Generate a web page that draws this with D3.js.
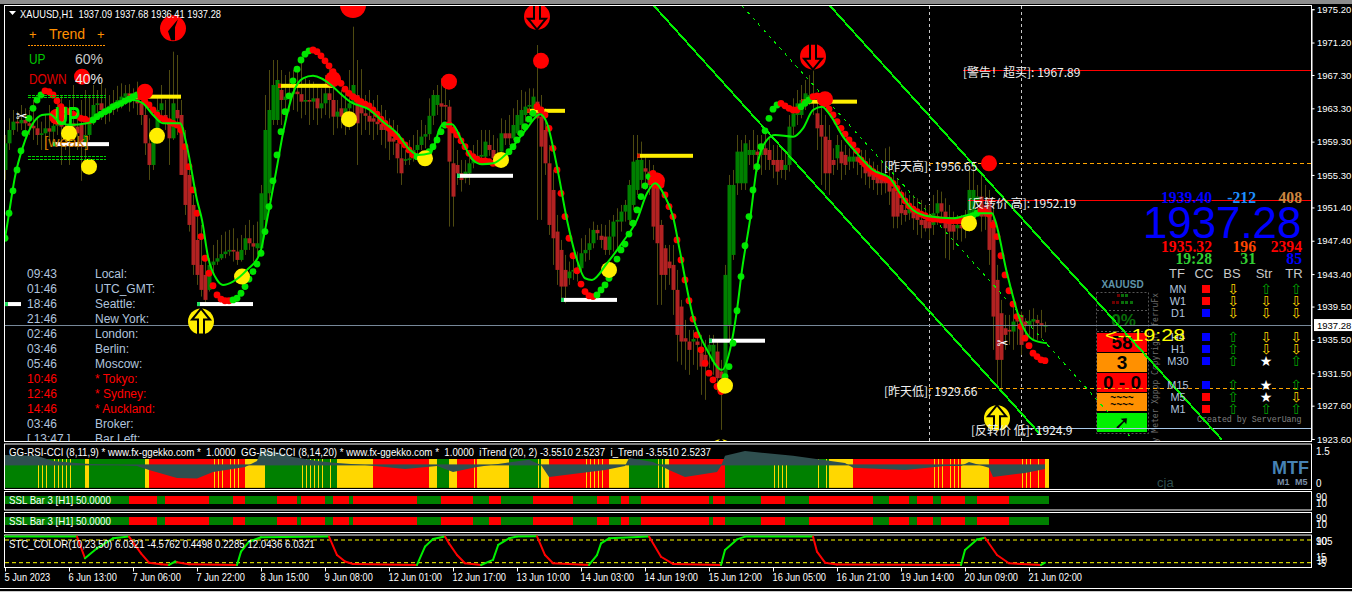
<!DOCTYPE html>
<html>
<head>
<meta charset="utf-8">
<script src="https://cdn.jsdelivr.net/npm/d3@7"></script>
<style>
html, body { margin: 0; padding: 0; background: #000; overflow: hidden; }
text { font-family: "Liberation Sans", sans-serif; }
</style>
</head>
<body>
<svg id="chart" width="1352" height="592"></svg>
<script>
//candles, one entry per H1 bar
var candleOpen = [
1955.9,1959.1,1960.7,1961.7,1961.5,1961.9,1961.5,1961.2,1960.9,1960.1,
1960.3,1960.9,1960.5,1961.2,1961.9,1961.1,1960.6,1961.5,1961.1,1961.3,
1958.7,1960.1,1962.1,1963.7,1963.9,1963.1,1962.9,1963.6,1963.8,1964.3,
1964.7,1965.1,1964.3,1964.8,1963.9,1962.5,1959.1,1956.5,1960.1,1963.1,
1962.5,1961.7,1959.7,1963.1,1962.5,1958.3,1955.3,1951.7,1947.5,1944.5,
1943.3,1941.5,1944.5,1944.9,1945.3,1945.8,1946.1,1946.3,1946.1,1945.1,
1946.3,1947.7,1947.1,1946.5,1946.5,1949.9,1953.1,1961.9,1961.9,1965.5,
1964.3,1964.7,1965.0,1965.3,1965.0,1964.1,1964.3,1964.1,1964.5,1963.3,
1963.9,1965.1,1964.3,1962.3,1963.3,1962.3,1963.3,1963.9,1964.9,1963.9,
1962.7,1962.4,1962.1,1961.7,1961.4,1961.2,1960.7,1959.7,1959.1,1957.3,
1957.0,1957.1,1957.3,1958.3,1958.9,1959.9,1960.2,1962.4,1963.7,1963.9,
1963.7,1963.5,1956.7,1956.5,1955.5,1954.9,1955.5,1956.7,1957.3,1957.5,
1957.5,1958.9,1958.3,1957.8,1958.1,1960.3,1960.3,1959.7,1960.3,1961.3,
1962.5,1963.5,1963.1,1964.1,1962.3,1960.7,1956.7,1953.5,1948.5,1946.3,
1943.9,1942.9,1943.7,1943.7,1944.1,1945.9,1946.3,1947.1,1948.7,1948.0,
1947.9,1946.3,1947.9,1949.7,1949.7,1950.9,1949.9,1951.7,1953.5,1954.7,
1956.1,1955.7,1954.7,1954.1,1949.3,1946.5,1944.9,1944.5,1941.5,1939.5,
1935.7,1935.3,1935.3,1935.3,1933.9,1933.7,1934.1,1932.9,1934.1,1931.7,
1931.3,1937.3,1945.7,1954.3,1954.3,1954.3,1957.7,1957.7,1958.1,1957.7,
1958.5,1958.3,1957.1,1957.1,1957.1,1955.9,1956.5,1961.1,1962.5,1962.5,
1963.7,1964.3,1964.9,1962.7,1961.3,1959.9,1959.5,1957.1,1957.3,1958.1,
1957.7,1956.9,1956.9,1957.5,1957.3,1956.7,1955.9,1955.7,1955.3,1954.9,
1954.9,1954.7,1953.7,1953.3,1951.7,1951.1,1950.7,1950.9,1950.5,1949.9,
1949.9,1949.7,1949.3,1950.7,1951.9,1950.9,1949.7,1949.3,1948.9,1949.3,
1948.9,1949.2,1950.7,1951.9,1952.7,1951.7,1952.5,1949.9,1942.7,1938.7,
1936.9,1936.7,1936.5,1937.9,1938.5,1937.7,1937.3,1937.7,1937.9,1937.5,1937.09];
var candleClose = [
1959.1,1960.7,1961.7,1961.5,1961.9,1961.5,1961.2,1960.9,1960.1,1960.3,
1960.9,1960.5,1961.2,1961.9,1961.1,1960.6,1961.5,1961.1,1960.3,1958.7,
1960.1,1962.1,1963.7,1963.9,1963.1,1962.9,1963.6,1963.8,1964.3,1964.7,
1965.1,1964.3,1964.8,1963.9,1962.5,1959.1,1956.5,1960.1,1963.1,1963.9,
1961.7,1959.7,1963.9,1962.1,1955.3,1951.7,1949.3,1944.5,1943.3,1941.5,
1940.3,1944.5,1944.9,1945.3,1945.8,1946.1,1946.3,1946.1,1945.1,1946.3,
1947.7,1947.1,1946.7,1947.1,1953.1,1960.7,1963.1,1966.1,1966.7,1964.3,
1964.7,1965.0,1965.3,1965.0,1964.1,1964.3,1964.1,1964.5,1963.3,1963.9,
1965.1,1964.3,1962.3,1962.9,1962.3,1963.3,1963.9,1966.1,1961.5,1962.7,
1962.4,1961.7,1961.7,1961.4,1960.7,1960.7,1959.3,1959.3,1957.3,1955.5,
1957.2,1957.3,1958.3,1958.9,1959.9,1960.2,1962.4,1964.9,1964.9,1963.5,
1963.5,1956.9,1952.7,1955.5,1954.7,1955.7,1956.7,1957.3,1957.6,1957.7,
1959.3,1958.3,1957.3,1957.1,1960.3,1959.7,1959.7,1961.3,1962.5,1963.1,
1963.5,1963.7,1964.7,1962.1,1958.7,1956.7,1949.3,1947.7,1943.9,1941.9,
1941.9,1943.7,1943.9,1944.1,1945.9,1946.3,1947.1,1948.7,1948.3,1947.5,
1946.3,1947.9,1949.7,1949.9,1950.9,1951.7,1954.1,1956.9,1957.1,1957.1,
1955.7,1954.1,1949.1,1947.1,1943.3,1943.3,1944.1,1941.5,1936.1,1935.3,
1935.3,1934.3,1935.6,1934.9,1932.3,1932.3,1934.9,1934.9,1930.9,1930.9,
1943.3,1954.1,1954.1,1958.1,1958.1,1959.1,1958.3,1958.3,1957.7,1958.5,
1957.7,1957.1,1956.5,1955.7,1955.9,1956.5,1961.1,1962.7,1963.9,1964.3,
1965.1,1964.9,1964.5,1960.9,1959.9,1955.5,1955.5,1956.5,1958.9,1956.7,
1956.5,1957.5,1957.5,1956.9,1956.5,1955.5,1955.1,1954.7,1954.3,1954.3,
1954.3,1953.3,1950.3,1950.3,1950.7,1950.5,1951.5,1950.1,1949.9,1949.3,
1948.9,1948.9,1950.7,1951.9,1950.9,1948.9,1948.5,1948.5,1949.3,1948.9,
1949.2,1953.5,1953.5,1952.7,1950.3,1950.3,1946.3,1938.3,1933.1,1933.1,
1936.1,1936.5,1937.7,1937.7,1934.9,1937.3,1937.8,1938.0,1937.5,1937.3,1937.28];
var candleHigh = [
1960.1,1962.1,1963.1,1962.9,1963.7,1963.3,1963.1,1964.3,1962.1,1961.7,
1962.5,1963.7,1962.9,1964.3,1964.9,1963.1,1964.3,1966.1,1963.3,1964.3,
1965.5,1964.9,1966.1,1965.5,1966.2,1965.7,1964.9,1965.5,1966.0,1966.3,
1966.1,1966.2,1965.7,1966.5,1965.5,1964.3,1962.1,1960.7,1964.9,1966.1,
1964.3,1967.9,1970.1,1969.7,1964.3,1960.7,1955.9,1952.9,1951.1,1949.3,
1945.7,1945.3,1946.9,1947.5,1948.1,1948.5,1948.7,1948.9,1947.7,1948.1,
1949.3,1949.9,1949.3,1949.7,1954.1,1964.9,1967.9,1969.1,1969.1,1967.9,
1967.3,1967.7,1967.9,1968.4,1968.9,1966.9,1966.7,1966.5,1966.1,1965.7,
1967.3,1968.5,1966.7,1964.3,1965.5,1965.7,1967.9,1973.1,1969.1,1968.0,
1964.9,1965.5,1964.3,1964.9,1963.7,1963.1,1962.1,1961.9,1961.3,1959.1,
1958.3,1959.5,1960.1,1960.7,1961.9,1961.3,1964.5,1965.5,1966.1,1966.9,
1966.7,1964.3,1961.3,1958.3,1957.1,1957.1,1958.3,1958.9,1959.5,1960.7,
1960.7,1960.7,1960.1,1959.7,1962.1,1961.9,1962.5,1963.3,1964.3,1965.5,
1965.3,1965.7,1965.7,1970.9,1964.9,1963.3,1958.9,1955.9,1950.5,1947.5,
1945.7,1944.9,1945.7,1946.1,1947.7,1948.1,1948.9,1949.7,1949.3,1949.4,
1949.3,1949.9,1950.5,1951.3,1951.7,1952.3,1954.7,1960.1,1960.1,1959.3,
1957.7,1957.1,1956.5,1954.9,1949.9,1946.9,1946.9,1946.9,1943.9,1940.3,
1937.9,1936.7,1936.7,1936.1,1936.1,1935.5,1936.1,1936.1,1935.5,1933.1,
1944.5,1955.3,1955.9,1960.1,1959.5,1960.1,1959.5,1960.7,1960.1,1960.1,
1960.5,1959.7,1958.9,1958.9,1958.5,1958.3,1962.5,1964.5,1965.5,1966.1,
1966.7,1967.3,1967.9,1964.9,1963.7,1962.5,1961.3,1958.5,1960.1,1959.5,
1958.9,1958.5,1958.3,1958.5,1958.3,1958.3,1957.3,1956.9,1956.5,1957.1,
1958.5,1958.7,1955.9,1954.9,1953.5,1953.3,1952.9,1952.9,1952.5,1952.3,
1951.7,1951.7,1952.9,1953.5,1953.3,1952.5,1951.7,1950.9,1950.5,1950.5,
1951.1,1955.9,1956.9,1954.1,1955.3,1954.1,1953.5,1951.7,1944.5,1940.3,
1938.5,1938.5,1939.7,1939.1,1938.9,1938.1,1939.1,1939.3,1938.5,1939.1,1937.68];
var candleLow = [
1954.7,1958.3,1960.1,1960.5,1960.7,1960.7,1960.1,1959.5,1958.9,1958.3,
1958.3,1959.5,1958.8,1960.1,1956.5,1958.3,1956.5,1959.5,1958.3,1954.6,
1956.5,1959.5,1961.3,1962.1,1961.9,1961.4,1961.7,1962.5,1962.9,1963.3,
1963.7,1962.9,1963.3,1962.5,1961.3,1957.7,1954.7,1955.9,1959.5,1962.5,
1960.7,1956.5,1959.5,1960.1,1955.3,1950.5,1948.5,1943.3,1942.1,1940.7,
1939.9,1941.3,1943.7,1944.5,1945.1,1945.3,1945.6,1944.9,1944.5,1944.9,
1945.7,1946.3,1944.9,1945.3,1945.7,1949.3,1952.3,1961.3,1961.3,1961.3,
1962.1,1962.9,1963.1,1962.9,1962.1,1962.5,1961.3,1961.9,1961.3,1962.1,
1962.5,1962.1,1960.1,1960.9,1960.9,1960.1,1960.7,1962.5,1956.5,1960.1,
1960.7,1960.1,1959.5,1960.1,1958.9,1958.5,1957.1,1957.7,1955.5,1954.1,
1956.5,1956.5,1956.9,1957.1,1958.3,1958.5,1959.5,1961.3,1962.5,1961.3,
1961.9,1949.1,1949.1,1954.1,1953.3,1954.3,1954.1,1956.1,1957.1,1957.3,
1957.1,1957.6,1956.9,1956.7,1957.7,1958.9,1958.9,1959.5,1960.1,1960.7,
1961.7,1962.5,1962.5,1949.9,1949.9,1955.3,1948.1,1944.5,1942.1,1940.3,
1939.9,1942.1,1942.7,1942.5,1943.7,1944.9,1945.1,1946.5,1947.5,1946.5,
1945.7,1945.7,1946.1,1946.3,1948.5,1949.7,1949.3,1951.1,1952.9,1953.7,
1953.5,1952.9,1947.5,1939.7,1939.7,1941.5,1942.1,1938.5,1932.9,1932.5,
1931.9,1931.3,1932.5,1931.9,1928.9,1928.3,1932.1,1931.3,1929.3,1924.7,
1930.1,1935.5,1945.1,1952.9,1953.5,1953.5,1956.5,1955.9,1955.7,1955.3,
1955.9,1955.9,1954.9,1954.1,1954.9,1954.7,1955.7,1960.1,1961.3,1962.1,
1963.1,1963.7,1962.5,1958.3,1954.1,1953.5,1952.9,1955.3,1955.9,1954.7,
1955.3,1955.9,1956.1,1955.3,1954.9,1954.1,1953.7,1953.5,1952.9,1952.9,
1953.1,1951.7,1948.9,1948.9,1949.3,1949.7,1949.9,1948.7,1948.1,1947.7,
1948.5,1947.5,1948.1,1949.3,1949.7,1945.3,1945.1,1946.3,1947.5,1947.3,
1947.7,1948.5,1949.9,1950.5,1948.5,1948.7,1944.5,1934.3,1930.1,1929.5,
1934.3,1934.9,1934.3,1934.9,1933.7,1935.5,1936.1,1935.5,1935.5,1935.7,1936.41];

//dot indicator, one value per bar. dotRuns = run lengths, starts green then alternates with red
var dotValues = [
1947.7,1950.7,1953.4,1955.9,1958.2,1960.3,1962.1,1963.3,1964.3,1964.9,
1965.4,1965.3,1964.9,1964.2,1963.5,1963.1,1962.9,1962.6,1962.4,1962.1,1962.0,1961.8,
1961.9,1962.3,1962.6,1962.9,1963.1,1963.5,1963.7,1963.9,1964.2,1964.4,1964.7,1964.9,
1964.7,1964.1,1963.7,1963.1,1962.5,1962.1,1961.9,1961.7,1961.5,1961.3,1960.7,1958.7,1956.3,1953.5,1950.7,1947.9,1945.3,1943.5,1942.0,1940.9,1940.4,1940.2,1940.2,
1940.3,1940.5,1941.1,1941.9,1942.8,1943.7,1944.6,1945.9,1948.5,1951.5,1954.6,1957.7,1960.5,1962.9,1964.8,1966.6,1968.0,1969.1,1969.8,1970.2,
1970.3,1970.1,1969.6,1969.0,1968.4,1967.7,1966.9,1966.3,1965.6,1965.1,1964.7,1964.4,1964.1,1963.8,1963.6,1963.1,1962.6,1962.0,1961.5,1960.9,1960.3,1959.9,1959.4,1958.9,1958.3,1957.7,
1957.5,1957.3,1957.3,1958.1,1958.7,1959.5,1960.5,1961.3,
1961.3,1960.7,1960.1,1959.4,1958.7,1957.9,1957.5,1957.2,1957.0,1957.0,1956.9,1956.7,1956.7,
1957.0,1957.5,1958.1,1958.7,1959.5,1960.3,1961.1,1962.0,1962.7,
1963.5,1963.1,1962.5,1960.9,1958.5,1955.9,1953.1,1950.3,1947.7,1945.6,1943.8,1942.2,1941.3,1940.8,1940.7,
1940.9,1941.5,1942.1,1942.9,1943.9,1945.2,1946.3,1947.0,1948.2,1949.5,1951.1,1952.7,1954.0,1955.1,
1955.5,1955.2,1954.1,1952.9,1951.5,1950.3,1947.5,1945.1,1942.7,1940.2,1938.0,1936.1,1934.3,1932.7,1931.5,1930.7,1929.9,1929.3,
1931.1,1932.3,1935.1,1939.0,1943.1,1946.8,1950.3,1953.5,1956.3,1958.7,1960.6,1962.1,1963.2,1963.7,
1963.9,1963.6,1963.3,1963.1,1963.1,
1963.5,1963.9,1964.3,
1964.7,1964.8,1964.7,1964.1,1963.2,1962.5,1961.7,1960.9,1960.2,1959.5,1958.9,1958.2,1957.1,1956.6,1956.1,1955.7,1955.4,1955.1,1954.9,1954.7,1954.3,1953.7,1952.9,1952.2,1951.6,1951.2,1950.9,1950.6,1950.4,1950.1,1950.0,1950.0,1949.9,1949.9,1949.8,1949.8,1949.8,1949.8,1949.9,
1950.0,1950.4,1950.7,
1951.0,1950.9,1950.6,1949.3,1947.9,1945.6,1943.3,1941.4,1939.8,1938.3,1937.1,1935.7,1934.8,1933.9,1933.5,1933.1,1933.0];
var dotRuns = [10,12,12,23,20,26,8,13,9,15,14,18,14,5,3,39,3,17];

//smooth trend line, knots given as bar number and price
var trendBars = [0,0.75,2.5,4.5,7,9.25,11.25,13,16.25,20.5,23.75,27,32,34.5,37,39.5,43.75,45.5,48,49.25,50.75,53,54.5,57,60.5,63.75,65.5,68,69.5,72,74.5,77,82,83.75,86.25,91.25,94.5,98,101.25,103.25,106.25,109.5,111.75,114.5,117,119.25,122,125.5,130.5,133.75,135.5,138,140.5,143,145,146.75,150.5,154.5,158,160.5,162.5,165,167,168.75,172,175.5,179.25,181.25,183,184.25,186.25,188,190.5,192.5,197,199.5,202,204.25,206.25,209.5,213,217,221.25,223.75,227,231.25,237,243,246.75,247.5,250.5,253.75,257,260.5];
var trendPrices = [1947.7,1949.9,1955.1,1958.7,1961.5,1962.5,1962.6,1961.9,1961.3,1961.5,1962.5,1963.5,1964.3,1963.9,1962.5,1961.5,1961.5,1958.7,1952.3,1949.9,1945.5,1942.7,1942.1,1942.5,1943.9,1945.9,1949.9,1956.3,1960.3,1965.1,1966.9,1967.2,1965.9,1965.1,1964.1,1963.1,1961.7,1960.3,1958.3,1957.7,1957.9,1961.4,1961.4,1959.1,1957.1,1956.6,1956.7,1957.9,1960.9,1962.6,1961.5,1956.3,1949.9,1945.1,1942.9,1942.7,1944.7,1947.3,1949.9,1953.1,1954.3,1952.7,1950.3,1946.1,1938.3,1934.3,1931.9,1934.3,1939.1,1943.9,1949.9,1956.3,1959.5,1960.1,1959.9,1960.9,1963.1,1963.5,1962.5,1959.9,1957.9,1955.9,1954.9,1953.1,1951.1,1950.3,1950.1,1950.7,1950.7,1949.9,1943.5,1937.9,1935.5,1935.1];

//signal balls
var redBigBars = [42,87], redBigPrices = [1972.9,1975.7];
var redArrowBars = [133,202], redArrowPrices = [1974.3,1969.5];
var redBallBars = [19.25,13,35,82,111,134,163,205,246];
var redBallPrices = [1967.1,1962.3,1965.3,1966.8,1966.5,1969.0,1954.6,1964.4,1956.7];
var yellowBallBars = [16,21,38,59.25,86,105,124,151,180,241];
var yellowBallPrices = [1960.3,1956.3,1960.0,1943.1,1962.0,1957.3,1957.1,1943.9,1930.0,1949.5];
var yellowArrowBars = [49,179,248], yellowArrowPrices = [1937.7,1922.0,1926.1];

//short reversal bars
var yellowBarStart = [31,68.25,130.5,158,199], yellowBarEnd = [44,82,140,172,213];
var yellowBarPrice = [1964.7,1966.0,1963.0,1957.6,1964.1];
var whiteBarStart = [12,0,48,113,139,176], whiteBarEnd = [26,4,62,127,153,190];
var whiteBarPrice = [1959.0,1939.8,1939.8,1955.2,1940.3,1935.4];

//channel: start bar/price, end bar/price
var channelStartBar = [162.25,206.25,184.25], channelEndBar = [258.75,304.25,282];
var channelStartPrice = [1975.6,1975.6,1975.6], channelEndPrice = [1924.2,1923.5,1923.5];

//levels
var levelNames = ["[警告！超买]: 1967.89","[昨天高]: 1956.65","[反转价 高]: 1952.19","[昨天低]: 1929.66","[反转价 低]: 1924.9"];
var levelPrices = [1967.89,1956.65,1952.19,1929.66,1924.9];
var levelBars = [239.5,231,240.75,231,254];
var levelColors = ["#ff0000","#ffa500","#ff0000","#ffa500","#a8c8e8"];
var levelTextBars = [239.5,219.75,240.75,219.75,241.5];
var levelTextGap = [7,7,7,7,7];
var sessionBars = [231,254];

var priceTicks = [1975.2,1971.2,1967.3,1963.3,1959.3,1955.3,1951.4,1947.4,1943.4,1939.5,1935.5,1931.5,1927.6,1923.6];
var lastPrice = 1937.28;
var timeLabels = ["5 Jun 2023","6 Jun 13:00","7 Jun 06:00","7 Jun 22:00","8 Jun 15:00","9 Jun 08:00","12 Jun 01:00","12 Jun 17:00","13 Jun 10:00","14 Jun 03:00","14 Jun 19:00","15 Jun 12:00","16 Jun 05:00","16 Jun 21:00","19 Jun 14:00","20 Jun 09:00","21 Jun 02:00"];

//GG-RSI-CCI columns: run lengths with colour, thin gold columns, grey band knots
var ggRunLengths = [20,1,14,1,24,5,18,9,12,2,2,3,2,5,8,8,2,15,5,9,1,14,23,3,6,27,7,14,1];
var ggRunColors = "GYGYRYGYRRYGYRYGYRYGYRGGYRYRY".split("");
var ggThin = [8,9,10,12,13,14,15,16,52,53,54,56,57,58,74,75,76,77,78,79,81,117,118,133,145,146,147,148,149,163,164,192,193,194,195,203,205,232,233,234,236,237,238,254,255,256,258];
var ggGreyBars = [0,8,12,20,28,33,36,43,48,52,60,63,64,68,72,78,83,90,100,108,112,118,125,131,134,136,150,155,156,162,166,170,178,179,180,185,197,210,212,225,235,239,241,246,247,255,260];
var ggGreyValues = [1.31,1.27,1.03,0.89,0.84,0.79,0.6,0.22,0.2,0.5,0.74,1.03,1.55,1.45,1.22,1.03,0.93,0.84,0.65,0.79,0.5,0.74,0.93,1.08,0.84,0.27,0.6,0.79,1.17,0.98,0.6,0.27,0.5,0.79,1.27,1.5,1.27,0.93,0.7,0.6,0.79,0.79,0.98,0.7,0.27,0.46,0.65];

//SSL bar runs, starts green then alternates with red
var sslRuns = [31,7,2,11,6,3,8,5,1,6,2,4,1,16,6,8,4,3,8,10,6,3,3,2,3,17,1,3,9,6,6,16,4,5,2,4,2,6,3,8,10];

//STC line, colour flips at the bars in stcTurns
var stcBars = [0,18,20,23,27,31,34,36,39,41,42.5,43,46,58,59,61,64,81,83,85,87,103,105,107,110,111,113,115,119,122,123.3,126,128,133,135,137,146,148,149,151,161,164,167,179,180,183,185,202,203,205,208,239,240,243,245,248,251,259,260];
var stcValues = [102,102,25.6,60.8,96,102,43,10,4.5,2,14,11.5,4.5,2,49,84,99.5,102,37,14,5.6,2,66.6,93.6,102,78,37,8,2,19.7,72.5,96,102,103,37,8,2,37,78,96,102,31,5.6,2,55,92,102,102,49,10,4,2,55,92,98,37,8,2,10];
var stcTurns = [18,20,31,41,43,58,81,103,110,119,133,146,161,179,202,239,245,259];

//world clock text
var clockTimes = ["09:43","01:46","18:46","21:46","02:46","03:46","05:46","10:46","12:46","14:46","03:46","[ 13:47 ]"];
var clockNames = ["Local:","UTC_GMT:","Seattle:","New York:","London:","Berlin:","Moscow:","* Tokyo:","* Sydney:","* Auckland:","Broker:","Bar Left:"];

//multi timeframe table
var tfNames = ["MN","W1","D1","H4","H1","M30","M15","M5","M1"];
var tfCC = ["R","R","B","B","B","B","B","R","R"];
var tfBS = ["d","d","d","u","u","u","u","u","u"];
var tfStr = ["u","d","d","d","d","s","s","s","u"];
var tfTR = ["u","d","d","d","d","u","u","d","u"];

var GREEN = "#008000", RED = "#ff0000", GOLD = "#ffd700", LIME = "#00e600", WHITE = "#ffffff", BRIGHT = "#00f000";

var svg = d3.select("#chart");
var xBar = d3.scaleLinear().domain([0, 260]).range([5, 1045]);
var yMain = d3.scaleLinear().domain([1975.2, 1923.6]).range([9.2, 439]);

//MT4 text is narrow, squeeze the glyphs a bit
function narrow(sel, k){
	sel.each(function(){
		d3.select(this)
			.attr("textLength", this.getComputedTextLength() * k)
			.attr("lengthAdjust", "spacingAndGlyphs");
	});
	return sel;
}

function label(parent, x, y, str, color, size, anchor){
	return parent.append("text")
		.attr("x", x)
		.attr("y", y)
		.attr("text-anchor", anchor || "start")
		.style("font-size", size + "px")
		.style("fill", color)
		.text(str);
}

//background and window frames
svg.append("rect").attr("width", 1352).attr("height", 592).attr("fill", "#000");
svg.append("rect").attr("width", 1352).attr("height", 4).attr("fill", "#8c8c8c");
var frameTops = [5.5, 444, 491.5, 512.5, 535];
var frameBottoms = [441.5, 489.5, 510, 532.5, 567.5];
frameTops.forEach(function(t, i){
	svg.append("rect")
		.attr("x", 4.5)
		.attr("y", t)
		.attr("width", 1307)
		.attr("height", frameBottoms[i] - t)
		.attr("fill", "none")
		.attr("stroke", WHITE);
});
svg.append("line").attr("x1", 0).attr("x2", 1352).attr("y1", 588.5).attr("y2", 588.5).attr("stroke", WHITE);
svg.append("line").attr("x1", 0).attr("x2", 1352).attr("y1", 591.5).attr("y2", 591.5).attr("stroke", "#cccccc");

var defs = svg.append("defs");
defs.append("clipPath").attr("id", "mainClip").append("rect")
	.attr("x", 5).attr("y", 6).attr("width", 1306).attr("height", 435);
defs.append("clipPath").attr("id", "rightClip").append("rect")
	.attr("x", 1100).attr("y", 444).attr("width", 211).attr("height", 45);

var main = svg.append("g").attr("clip-path", "url(#mainClip)");

//world clock first, everything else sits above it
var clockColor = function(i){ return (i >= 7 && i <= 9) ? RED : "#b0c4de"; };
clockTimes.forEach(function(t, i){
	label(main, 27, 278 + i * 15, t, clockColor(i), 12);
	label(main, 95, 278 + i * 15, clockNames[i], clockColor(i), 12);
});

//session separators and levels
sessionBars.forEach(function(b){
	main.append("line")
		.attr("x1", Math.round(xBar(b)) + 0.5).attr("x2", Math.round(xBar(b)) + 0.5)
		.attr("y1", 6).attr("y2", 441)
		.attr("stroke", "#c8c8c8")
		.attr("stroke-dasharray", "3,3");
});

//meter widget on the right, channel runs over it
var meter = main.append("g");
meter.append("rect").attr("x", 1096.5).attr("y", 292.5).attr("width", 52).attr("height", 141)
	.attr("fill", "none").attr("stroke", "#555").attr("stroke-dasharray", "2,2");
[310.5, 331.5].forEach(function(y){
	meter.append("line").attr("x1", 1097).attr("x2", 1148).attr("y1", y).attr("y2", y)
		.attr("stroke", "#555").attr("stroke-dasharray", "2,2");
});
var meterTops = [333, 353, 373, 393, 413];
var meterBottoms = [352, 372, 392, 411, 432];
var meterColors = [RED, "#ff9000", RED, "#ff9000", "#00f000"];
meterTops.forEach(function(t, i){
	meter.append("rect").attr("x", 1097).attr("y", t).attr("width", 50)
		.attr("height", meterBottoms[i] - t).attr("fill", meterColors[i]);
});
var meterTexts = ["58", "3", "0 - 0"];
meterTexts.forEach(function(t, i){
	label(meter, 1122, meterBottoms[i] - 3, t, "#000", 19, "middle").style("font-weight", "bold");
});
label(meter, 1122, 401, "~~~~", "#000", 10, "middle").style("font-weight", "bold");
label(meter, 1122, 408, "~~~~", "#000", 10, "middle").style("font-weight", "bold");
label(meter, 1122, 429, "➚", "#000", 19, "middle").style("font-weight", "bold").style("font-family", "DejaVu Sans");
label(meter, 1122.5, 288, "XAUUSD", "#5f93a8", 10, "middle").style("font-weight", "bold");
label(meter, 1123.5, 326, "0%", "#0a6e0a", 17, "middle").style("font-weight", "bold");
var signalX = [1117, 1121, 1125], signalDots = [1112, 1116, 1121, 1125, 1130];
signalX.forEach(function(x, i){
	meter.append("rect").attr("x", x).attr("y", 294).attr("width", 3).attr("height", 3)
		.attr("fill", i == 0 ? "#6b0000" : "#0a6e0a");
});
signalDots.forEach(function(x, i){
	meter.append("rect").attr("x", x).attr("y", 301).attr("width", 3).attr("height", 3)
		.attr("fill", i < 2 ? "#6b0000" : "#0a6e0a");
});
label(meter, 0, 0, "by Meter Xpppp Copyright ferruFx", "#6e6e6e", 8)
	.attr("text-anchor", "end")
	.style("font-family", "DejaVu Sans Mono")
	.attr("transform", "translate(1158,293) rotate(-90)");
label(main, 1197, 422, "Created by ServerUang", "#808080", 8.3).style("font-family", "Liberation Mono");

//candles
var barIdx = d3.range(candleOpen.length);
main.append("g").selectAll("line").data(barIdx).join("line")
	.attr("x1", function(d){ return xBar(d) + 0.5; })
	.attr("x2", function(d){ return xBar(d) + 0.5; })
	.attr("y1", function(d){ return yMain(candleHigh[d]); })
	.attr("y2", function(d){ return yMain(candleLow[d]); })
	.attr("stroke", "#4e4a10");
main.append("g").selectAll("rect").data(barIdx).join("rect")
	.attr("x", function(d){ return xBar(d) - 1.5; })
	.attr("width", 4)
	.attr("y", function(d){ return Math.min(yMain(candleOpen[d]), yMain(candleClose[d])); })
	.attr("height", function(d){ return Math.max(1, Math.abs(yMain(candleOpen[d]) - yMain(candleClose[d]))); })
	.attr("fill", function(d){ return candleClose[d] >= candleOpen[d] ? GREEN : "#b22222"; });

//last price line
main.append("line").attr("x1", 5).attr("x2", 1311)
	.attr("y1", Math.round(yMain(lastPrice)) + 0.5).attr("y2", Math.round(yMain(lastPrice)) + 0.5)
	.attr("stroke", "#778899");

//level lines
levelPrices.forEach(function(p, i){
	main.append("line")
		.attr("x1", xBar(levelBars[i])).attr("x2", 1311)
		.attr("y1", Math.floor(yMain(p)) + 0.5).attr("y2", Math.floor(yMain(p)) + 0.5)
		.attr("stroke", levelColors[i])
		.attr("stroke-dasharray", levelColors[i] == "#ffa500" ? "4,3" : null);
});

//channel
channelStartBar.forEach(function(b, i){
	main.append("line")
		.attr("x1", xBar(b)).attr("y1", yMain(channelStartPrice[i]))
		.attr("x2", xBar(channelEndBar[i])).attr("y2", yMain(channelEndPrice[i]))
		.attr("stroke", BRIGHT)
		.attr("stroke-width", i == 2 ? 1 : 2)
		.attr("shape-rendering", "crispEdges")
		.attr("stroke-dasharray", i == 2 ? "3,5" : null);
});

//reversal bars
function shortBars(starts, ends, prices, color){
	starts.forEach(function(s, i){
		main.append("rect")
			.attr("x", xBar(s)).attr("width", xBar(ends[i]) - xBar(s))
			.attr("y", yMain(prices[i]) - 2).attr("height", 4)
			.attr("fill", color);
		main.append("rect")
			.attr("x", xBar(s)).attr("width", 3)
			.attr("y", yMain(prices[i]) - 2).attr("height", 4)
			.attr("fill", color == WHITE ? "#20e060" : "#d02000");
	});
}
shortBars(yellowBarStart, yellowBarEnd, yellowBarPrice, "#ffee00");
shortBars(whiteBarStart, whiteBarEnd, whiteBarPrice, WHITE);

//dots coloured by run
var dotColor = [];
dotRuns.forEach(function(n, r){
	d3.range(n).forEach(function(){ dotColor.push(r % 2 == 0 ? LIME : RED); });
});
main.append("g").selectAll("circle").data(dotValues).join("circle")
	.attr("cx", function(d, i){ return xBar(i); })
	.attr("cy", function(d){ return yMain(d); })
	.attr("r", 3.4)
	.attr("fill", function(d, i){ return dotColor[i]; });

//balls
function balls(bars, prices, color, r){
	bars.forEach(function(b, i){
		main.append("circle").attr("cx", xBar(b)).attr("cy", yMain(prices[i])).attr("r", r).attr("fill", color);
	});
}
balls(redBallBars, redBallPrices, RED, 8);
balls(yellowBallBars, yellowBallPrices, "#ffee00", 8);
balls(redBigBars, redBigPrices, RED, 13);
main.append("path")
	.attr("d", "M-2,12 L-5,3 L5,-9 L2,-1 L2,12")
	.attr("transform", "translate(" + xBar(redBigBars[0]) + "," + yMain(redBigPrices[0]) + ")")
	.attr("fill", "#000");

//arrow balls, dir 1 points down
function arrowBalls(bars, prices, color, dir){
	bars.forEach(function(b, i){
		var g = main.append("g").attr("transform", "translate(" + xBar(b) + "," + yMain(prices[i]) + ")");
		g.append("circle").attr("r", 13).attr("fill", color);
		g.append("path")
			.attr("d", "M-3,-13 H3 V2 H9 L0,13 L-9,2 H-3 Z")
			.attr("transform", "scale(1," + dir + ")")
			.attr("fill", color)
			.attr("stroke", "#000")
			.attr("stroke-width", 2);
	});
}
arrowBalls(redArrowBars, redArrowPrices, RED, 1);
arrowBalls(yellowArrowBars, yellowArrowPrices, "#ffee00", -1);

//trend line on top of the dots
var trendLine = d3.line()
	.x(function(d){ return xBar(d); })
	.y(function(d, i){ return yMain(trendPrices[i]); })
	.curve(d3.curveMonotoneX);
main.append("path")
	.attr("d", trendLine(trendBars))
	.attr("fill", "none")
	.attr("stroke", BRIGHT)
	.attr("stroke-width", 2);

//scissors
label(main, 16, 121, "✂", WHITE, 14).style("font-family", "DejaVu Sans");
label(main, 997, 348, "✂", WHITE, 14).style("font-family", "DejaVu Sans");

//level names
levelNames.forEach(function(n, i){
	label(main, xBar(levelTextBars[i]), yMain(levelPrices[i]) + levelTextGap[i], n, "#f0f0f0", 12)
		.style("font-family", "'Noto Sans CJK SC'");
});

//top left block
label(main, 20, 18, "XAUUSD,H1  1937.09 1937.68 1936.41 1937.28", WHITE, 11)
	.attr("textLength", 201).attr("lengthAdjust", "spacingAndGlyphs").style("white-space", "pre");
main.append("path").attr("d", "M9,11 L16,11 L12.5,15 Z").attr("fill", WHITE);
label(main, 29, 39, "+", "#ff9000", 13);
label(main, 49, 39, "Trend", "#ff9000", 14);
label(main, 97, 39, "+", "#ff9000", 13);
main.append("line").attr("x1", 28).attr("x2", 106).attr("y1", 45.5).attr("y2", 45.5)
	.attr("stroke", "#ff9000").attr("stroke-dasharray", "2,1");
narrow(label(main, 29, 64, "UP", "#00c800", 14), 0.85);
label(main, 75, 64, "60%", "#c8c8c8", 14);
narrow(label(main, 29, 84, "DOWN", "#e00000", 14), 0.85);
label(main, 75, 84, "40%", "#e8e8e8", 14);
[95.5, 97.5, 156.5, 159.5].forEach(function(y){
	main.append("line").attr("x1", 28).attr("x2", 106).attr("y1", y).attr("y2", y)
		.attr("stroke", "#00d000").attr("stroke-dasharray", "3,1");
});
narrow(label(main, 55, 125, "UP", "#00ee00", 25), 0.72).style("font-weight", "bold");
label(main, 44, 147, "[weak]", "#c87800", 15.5);

//quote block on the right
var quoteFont = "'Liberation Serif'";
var quoteRows = [
	{y: 203, x: [1212, 1256, 1302], s: ["1939.40", "-212", "408"], c: ["#0000ff", "#1e90ff", "#cd853f"]},
	{y: 252, x: [1212, 1256, 1302], s: ["1935.32", "196", "2394"], c: [RED, "#ff4500", RED]},
	{y: 264, x: [1212, 1256, 1302], s: ["19:28", "31", "85"], c: ["#32cd32", "#32cd32", "#0000ff"]}
];
quoteRows.forEach(function(r){
	r.s.forEach(function(t, i){
		label(main, r.x[i], r.y, t, r.c[i], 15.7, "end")
			.style("font-family", quoteFont)
			.style("font-weight", "bold");
	});
});
label(main, 1143, 238, "1937.28", "#0000ff", 43.8);

//timeframe table
var tfY = [289, 301, 313, 337, 349, 361, 385, 397, 409];
var tfHeadX = [1177, 1204, 1232, 1264, 1294], tfHeads = ["TF", "CC", "BS", "Str", "TR"];
tfHeads.forEach(function(t, i){
	label(main, tfHeadX[i], 278, t, "#c8c8c8", 13, "middle");
});
function tfGlyph(code, x, y){
	var glyph = code == "u" ? "⇧" : (code == "d" ? "⇩" : "★");
	var color = code == "u" ? "#00a000" : (code == "d" ? "#ffd700" : WHITE);
	label(main, x, y + 5, glyph, color, 14, "middle").style("font-family", "DejaVu Sans");
}
tfNames.forEach(function(t, i){
	narrow(label(main, 1178, tfY[i] + 4, t, "#b0c4de", 11.5, "middle"), 0.95);
	main.append("rect").attr("x", 1202).attr("y", tfY[i] - 4).attr("width", 8).attr("height", 8)
		.attr("fill", tfCC[i] == "R" ? RED : "#0000ff");
	tfGlyph(tfBS[i], 1233, tfY[i]);
	tfGlyph(tfStr[i], 1266, tfY[i]);
	tfGlyph(tfTR[i], 1296, tfY[i]);
});
label(main, 1105, 341, "<--19:28", "#ffff00", 17).attr("textLength", 80).attr("lengthAdjust", "spacingAndGlyphs");

//price axis
var priceAxis = d3.axisRight(yMain).tickValues(priceTicks).tickFormat(d3.format(".2f")).tickSize(3).tickPadding(2.5);
var axisG = svg.append("g").attr("transform", "translate(1311.5,0)").call(priceAxis);
axisG.selectAll("path").attr("stroke", WHITE);
axisG.selectAll("line").attr("stroke", WHITE);
axisG.selectAll("text").style("fill", WHITE).style("font-size", "9.5px").style("font-family", "Liberation Sans");
svg.append("rect").attr("x", 1314).attr("y", yMain(lastPrice) - 6).attr("width", 38).attr("height", 12).attr("fill", WHITE);
label(svg, 1317, yMain(lastPrice) + 3.5, d3.format(".2f")(lastPrice), "#000", 9.5);

//GG-RSI-CCI window
var yGG = d3.scaleLinear().domain([1.5, 0]).range([451, 482.6]);
var ggColorMap = {G: GREEN, R: RED, Y: GOLD};
var sub1 = svg.append("g");
var ggStart = 0;
ggRunLengths.forEach(function(n, i){
	sub1.append("rect")
		.attr("x", xBar(ggStart))
		.attr("width", xBar(n) - xBar(0))
		.attr("y", yGG(1.12))
		.attr("height", yGG(-0.25) - yGG(1.12))
		.attr("fill", ggColorMap[ggRunColors[i]]);
	ggStart += n;
});
sub1.selectAll("rect.thin").data(ggThin).join("rect")
	.attr("class", "thin")
	.attr("x", function(d){ return xBar(d) + 1; })
	.attr("width", 1)
	.attr("y", yGG(1.12))
	.attr("height", yGG(-0.25) - yGG(1.12))
	.attr("fill", GOLD);
var ggArea = d3.area()
	.x(function(d){ return xBar(d); })
	.y0(yGG(0.84))
	.y1(function(d, i){ return yGG(ggGreyValues[i]); });
sub1.append("path").attr("d", ggArea(ggGreyBars)).attr("fill", "#2f4f4f");
sub1.append("line").attr("x1", xBar(0)).attr("x2", xBar(260)).attr("y1", yGG(0.84)).attr("y2", yGG(0.84)).attr("stroke", "#2f4f4f");
label(sub1, 9, 456, "GG-RSI-CCI (8,11,9) * www.fx-ggekko.com *  1.0000  GG-RSI-CCI (8,14,20) * www.fx-ggekko.com *  1.0000  iTrend (20, 2) -3.5510 2.5237  i_Trend -3.5510 2.5237", WHITE, 11)
	.attr("textLength", 702).attr("lengthAdjust", "spacingAndGlyphs").style("white-space", "pre");
narrow(label(svg, 1316, 455, "1.5", WHITE, 11), 0.9);
narrow(label(svg, 1316, 487, "0", WHITE, 11), 0.9);
var mtf = svg.append("g").attr("clip-path", "url(#rightClip)");
label(mtf, 1272, 474, "MTF C", "#4682b4", 18).style("font-weight", "bold");
label(mtf, 1277, 485, "M1", "#7a8fa8", 9).style("font-weight", "bold");
label(mtf, 1295, 485, "M5", "#7a8fa8", 9).style("font-weight", "bold");
label(mtf, 1157, 487, "cja", "#2f4f4f", 13);

//SSL windows
[496, 517].forEach(function(top, w){
	var start = 0;
	sslRuns.forEach(function(n, r){
		svg.append("rect")
			.attr("x", xBar(start))
			.attr("width", xBar(n) - xBar(0))
			.attr("y", top)
			.attr("height", 8)
			.attr("fill", r % 2 == 0 ? GREEN : RED);
		start += n;
	});
	narrow(label(svg, 9, top + 8, "SSL Bar 3 [H1] 50.0000", WHITE, 11), 0.88);
	narrow(label(svg, 1316, top + 5, "90", WHITE, 11), 0.9);
	narrow(label(svg, 1316, top + 11, "10", WHITE, 11), 0.9);
});

//STC window
var yStc = d3.scaleLinear().domain([90, 10]).range([540, 562.7]);
var stcLevels = [90, 10];
stcLevels.forEach(function(v){
	svg.append("line")
		.attr("x1", 5).attr("x2", 1311)
		.attr("y1", yStc(v)).attr("y2", yStc(v))
		.attr("stroke", "#ffff00")
		.attr("stroke-dasharray", "4,3");
});
var stcGreen = true;
stcBars.forEach(function(b, i){
	if(i == stcBars.length - 1) return;
	if(stcTurns.indexOf(b) >= 0) stcGreen = !stcGreen;
	svg.append("line")
		.attr("x1", xBar(b)).attr("y1", yStc(stcValues[i]))
		.attr("x2", xBar(stcBars[i + 1])).attr("y2", yStc(stcValues[i + 1]))
		.attr("stroke", stcGreen ? BRIGHT : RED)
		.attr("stroke-width", 2)
		.attr("stroke-linecap", "round");
});
narrow(label(svg, 9, 548, "STC_COLOR(10,23,50) 6.0321 -4.5762 0.4498 0.2285 12.0436 6.0321", WHITE, 11), 0.88);
["90", "105"].forEach(function(t){ narrow(label(svg, 1316, 545, t, WHITE, 11), 0.9); });
["15", "10", "-5"].forEach(function(t, i){ narrow(label(svg, 1316 + i, 561 + i * 3, t, WHITE, 10), 0.9); });

//time axis
var timeAxis = d3.axisBottom(xBar)
	.tickValues(d3.range(0, 261, 16))
	.tickFormat(function(d){ return timeLabels[d / 16]; })
	.tickSize(4);
var timeG = svg.append("g").attr("transform", "translate(0,567.5)").call(timeAxis);
timeG.select("path").remove();
timeG.selectAll("line").attr("stroke", WHITE);
timeG.selectAll("text")
	.attr("text-anchor", "start")
	.attr("x", -1)
	.attr("y", 6)
	.style("fill", WHITE)
	.style("font-size", "11px")
	.style("font-family", "Liberation Sans");
narrow(timeG.selectAll("text"), 0.84);
</script>
</body>
</html>
